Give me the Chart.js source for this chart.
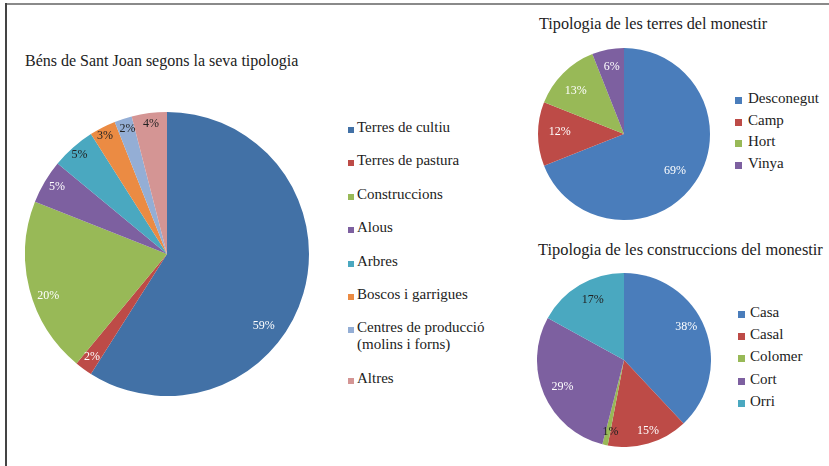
<!DOCTYPE html>
<html>
<head>
<meta charset="utf-8">
<script src="https://cdn.jsdelivr.net/npm/chart.js@4.4.0/dist/chart.umd.min.js"></script>
<style>
  body { margin: 0; background: #fff; font-family: "Liberation Serif", serif; color: #222; }
  #page { position: relative; width: 829px; height: 466px; overflow: hidden; }
  #frameTop { position: absolute; left: 5px; top: 3px; width: 824px; height: 2px; background: #8a8a8a; }
  #frameLeft { position: absolute; left: 5px; top: 3px; width: 1.5px; height: 463px; background: #444; }
  .title { position: absolute; font-size: 16px; white-space: nowrap; color: #222; }
  .box { position: absolute; }
  .legend { position: absolute; font-size: 15px; }
  .legend .item { position: relative; white-space: nowrap; line-height: 17px; }
  .legend .sw { position: absolute; }
</style>
</head>
<body>
<div id="page">
  <div id="frameTop"></div>
  <div id="frameLeft"></div>

  <div class="title" style="left:25px; top:52px;">Béns de Sant Joan segons la seva tipologia</div>
  <div class="box" style="left:25px; top:112px; width:284px; height:284px;"><canvas id="c1" width="284" height="284"></canvas></div>
  <div class="legend" id="lg1" style="left:348px; top:119px;"></div>

  <div class="title" style="left:539px; top:15px; font-size:16.2px;">Tipologia de les terres del monestir</div>
  <div class="box" style="left:538px; top:48px; width:172px; height:172px;"><canvas id="c2" width="172" height="172"></canvas></div>
  <div class="legend" id="lg2" style="left:735px; top:90px;"></div>

  <div class="title" style="left:538px; top:240px; font-size:16.4px;">Tipologia de les construccions del monestir</div>
  <div class="box" style="left:537px; top:273px; width:174px; height:174px;"><canvas id="c3" width="174" height="174"></canvas></div>
  <div class="legend" id="lg3" style="left:738px; top:304px;"></div>
</div>

<script>
// Béns de Sant Joan
const bensLabels = ['Terres de cultiu', 'Terres de pastura', 'Construccions', 'Alous', 'Arbres',
  'Boscos i garrigues', ['Centres de producció', '(molins i forns)'], 'Altres'];
const bensValues = [59, 2, 20, 5, 5, 3, 2, 4];

// Terres del monestir
const terresLabels = ['Desconegut', 'Camp', 'Hort', 'Vinya'];
const terresValues = [69, 12, 13, 6];

// Construccions del monestir
const construLabels = ['Casa', 'Casal', 'Colomer', 'Cort', 'Orri'];
const construValues = [38, 15, 1, 29, 17];

const blue = '#4271a6', red = '#bd4b47', green = '#98b957', purple = '#7d60a0',
      teal = '#4aa8c0', orange = '#eb8b43', lightBlue = '#94aed5', pink = '#d49594';

// draws "NN%" inside each slice
const pctLabels = {
  id: 'pctLabels',
  afterDatasetsDraw(chart, args, opts) {
    const ctx = chart.ctx;
    const meta = chart.getDatasetMeta(0);
    const vals = chart.data.datasets[0].data;
    ctx.save();
    ctx.font = '12px "Liberation Serif"';
    ctx.textAlign = 'center';
    ctx.textBaseline = 'middle';
    meta.data.forEach((arc, i) => {
      const p = arc.getProps(['x', 'y', 'startAngle', 'endAngle', 'outerRadius'], true);
      const mid = (p.startAngle + p.endAngle) / 2;
      const r = p.outerRadius * opts.pos;
      const nudge = (opts.nudge && opts.nudge[i]) || [0, 0];
      ctx.fillStyle = opts.colors[i];
      ctx.fillText(vals[i] + '%', p.x + Math.cos(mid) * r + nudge[0], p.y + Math.sin(mid) * r + nudge[1]);
    });
    ctx.restore();
  }
};

function makePie(id, labels, values, colors, labelOpts) {
  return new Chart(document.getElementById(id), {
    type: 'pie',
    data: {
      labels: labels,
      datasets: [{ data: values, backgroundColor: colors, borderWidth: 0 }]
    },
    options: {
      responsive: false,
      animation: false,
      layout: { padding: 0 },
      plugins: {
        legend: { display: false },
        tooltip: { enabled: false },
        pctLabels: labelOpts
      }
    },
    plugins: [pctLabels]
  });
}

function makeLegend(id, labels, colors, gap, sw, textLeft) {
  const el = document.getElementById(id);
  labels.forEach((lab, i) => {
    const item = document.createElement('div');
    item.className = 'item';
    item.style.marginBottom = gap + 'px';
    item.style.paddingLeft = textLeft + 'px';
    const box = document.createElement('span');
    box.className = 'sw';
    box.style.left = '0px';
    box.style.top = (14 - sw) + 'px';
    box.style.width = sw + 'px';
    box.style.height = sw + 'px';
    box.style.background = colors[i];
    item.appendChild(box);
    const lines = Array.isArray(lab) ? lab : [lab];
    lines.forEach(t => {
      const d = document.createElement('div');
      d.textContent = t;
      item.appendChild(d);
    });
    el.appendChild(item);
  });
}

const c1 = [blue, red, green, purple, teal, orange, lightBlue, pink];
makePie('c1', bensLabels, bensValues, c1, {
  pos: 0.9,
  colors: ['#fff', '#fff', '#fff', '#fff', '#222', '#222', '#222', '#222'],
  nudge: [[-26, 36], [0, -1], [5, 10], [0, -2], [-3, -3], [-4, -4], [0, -4], [0, -3]]
});
makeLegend('lg1', bensLabels, c1, 16.4, 6, 9);

const c2 = ['#4a7dbb', red, green, purple];
makePie('c2', terresLabels, terresValues, c2, {
  pos: 0.76, colors: ['#fff', '#fff', '#fff', '#fff'],
  nudge: [[-3, 0], [1, -2], [-2, 3], [0, -3]]
});
makeLegend('lg2', terresLabels, c2, 4.7, 7, 13);

const c3 = ['#4a7dbb', red, green, purple, teal];
makePie('c3', construLabels, construValues, c3, {
  pos: 0.82, colors: ['#fff', '#fff', '#222', '#fff', '#222'],
  nudge: [[-4, -7], [4, 2], [2, 2], [4, -1], [5, 1]]
});
makeLegend('lg3', construLabels, c3, 5.2, 7, 12);
</script>
</body>
</html>
